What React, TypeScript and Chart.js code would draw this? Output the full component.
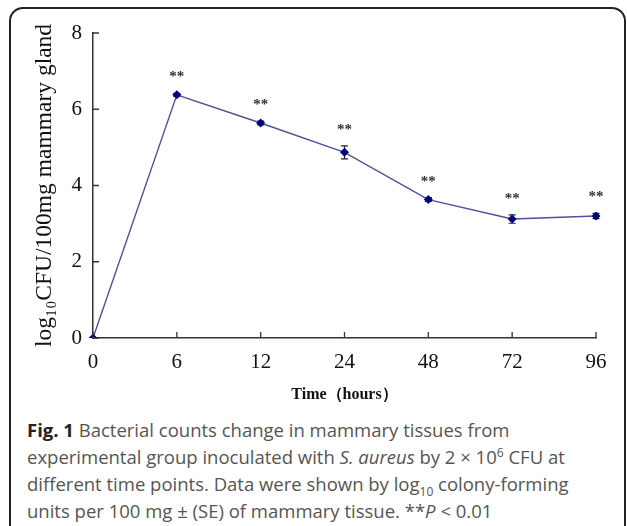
import React, { useEffect, useRef } from "react";
import { Chart, registerables } from "chart.js";
Chart.register(...registerables);

const hours = ["0", "6", "12", "24", "48", "72", "96"];
const meanLog = [0, 6.38, 5.64, 4.87, 3.63, 3.12, 3.2];
const seLog = [0, 0.04, 0.05, 0.17, 0.05, 0.11, 0.07];
const stars = ["", "**", "**", "**", "**", "**", "**"];
const yTicks = [0, 2, 4, 6, 8];

const errorBarPlugin = {
  id: "errorBars",
  beforeDatasetsDraw(chart: any) {
    const meta = chart.getDatasetMeta(0);
    const ys = chart.scales.y;
    const ctx = chart.ctx;
    ctx.save();
    ctx.strokeStyle = "#222";
    ctx.lineWidth = 1.2;
    meta.data.forEach((pt: any, i: number) => {
      if (!seLog[i]) return;
      const top = ys.getPixelForValue(meanLog[i] + seLog[i]);
      const bot = ys.getPixelForValue(meanLog[i] - seLog[i]);
      const x = pt.x;
      ctx.beginPath();
      ctx.moveTo(x, top);
      ctx.lineTo(x, bot);
      ctx.moveTo(x - 3.5, top);
      ctx.lineTo(x + 3.5, top);
      ctx.moveTo(x - 3.5, bot);
      ctx.lineTo(x + 3.5, bot);
      ctx.stroke();
    });
    ctx.restore();
  },
  afterDatasetsDraw(chart: any) {
    const meta = chart.getDatasetMeta(0);
    const ys = chart.scales.y;
    const ctx = chart.ctx;
    ctx.save();
    ctx.fillStyle = "#333";
    ctx.font = "bold 15px 'Liberation Serif'";
    ctx.textAlign = "center";
    ctx.textBaseline = "middle";
    meta.data.forEach((pt: any, i: number) => {
      if (!stars[i]) return;
      const top = ys.getPixelForValue(meanLog[i] + seLog[i]);
      ctx.fillText(stars[i], pt.x, top - 16);
    });
    ctx.restore();
  },
};

const innerTicksPlugin = {
  id: "innerTicks",
  afterDraw(chart: any) {
    const { x: xs, y: ys } = chart.scales;
    const ctx = chart.ctx;
    const area = chart.chartArea;
    ctx.save();
    ctx.strokeStyle = "#333";
    ctx.lineWidth = 1.3;
    ctx.beginPath();
    xs.ticks.forEach((_: any, i: number) => {
      const x = xs.getPixelForTick(i);
      ctx.moveTo(x, area.bottom);
      ctx.lineTo(x, area.bottom - 6);
    });
    ys.ticks.forEach((_: any, i: number) => {
      const y = ys.getPixelForTick(i);
      ctx.moveTo(area.left, y);
      ctx.lineTo(area.left + 6, y);
    });
    ctx.stroke();
    ctx.restore();
  },
};

export default function App() {
  const ref = useRef<HTMLCanvasElement>(null);
  useEffect(() => {
    document.body.style.margin = "0";
    document.body.style.overflow = "hidden";
    const chart = new Chart(ref.current!, {
      type: "line",
      data: {
        labels: hours,
        datasets: [
          {
            data: meanLog,
            borderColor: "#4f4f9c",
            borderWidth: 1.4,
            pointStyle: "rectRot",
            pointRadius: 3.5,
            pointBackgroundColor: "#000080",
            pointBorderColor: "#000080",
            tension: 0,
          },
        ],
      },
      options: {
        responsive: false,
        animation: false,
        layout: { padding: { left: 27, top: 33, right: 31, bottom: 2 } },
        plugins: { legend: { display: false }, tooltip: { enabled: false } },
        scales: {
          x: {
            type: "category",
            offset: false,
            grid: { display: false, drawTicks: false },
            border: { display: true, color: "#333", width: 1.5 },
            ticks: {
              color: "#111",
              padding: 12,
              font: { family: "'Liberation Serif'", size: 21 },
              maxRotation: 0,
            },
            title: {
              display: true,
              text: "Time（hours）",
              color: "#111",
              font: { family: "'Liberation Serif'", size: 16, weight: "bold" },
            },
            afterFit(scale: any) {
              scale.height = 70;
            },
          },
          y: {
            min: 0,
            max: 8,
            afterBuildTicks(scale: any) {
              scale.ticks = yTicks.map((v) => ({ value: v }));
            },
            grid: { display: false, drawTicks: false },
            border: { display: true, color: "#333", width: 1.5 },
            ticks: {
              color: "#111",
              padding: 11,
              font: { family: "'Liberation Serif'", size: 21 },
            },
            title: {
              display: true,
              text: "log₁₀CFU/100mg mammary gland",
              color: "#111",
              font: { family: "'Liberation Serif'", size: 23.5 },
            },
            afterFit(scale: any) {
              scale.width = 66;
            },
          },
        },
      },
      plugins: [errorBarPlugin, innerTicksPlugin],
    } as any);
    return () => chart.destroy();
  }, []);

  const capStyle: React.CSSProperties = {
    position: "absolute",
    left: 27,
    whiteSpace: "nowrap",
    fontFamily: "'Open Sans', sans-serif",
    fontSize: 18.5,
    color: "#555",
    lineHeight: "27px",
  };

  return (
    <div style={{ position: "relative", width: 627, height: 526, overflow: "hidden", background: "#fff" }}>
      <div
        style={{
          position: "absolute",
          left: 9,
          top: 7,
          width: 617,
          height: 540,
          border: "2px solid #222",
          borderRadius: 14,
          boxSizing: "border-box",
        }}
      />
      <canvas ref={ref} width={627} height={410} style={{ position: "absolute", left: 0, top: 0 }} />
      <div style={{ ...capStyle, top: 416 }}>
        <b style={{ color: "#222" }}>Fig. 1</b> Bacterial counts change in mammary tissues from
      </div>
      <div style={{ ...capStyle, top: 443 }}>
        experimental group inoculated with <i>S. aureus</i> by 2 × 10<sup style={{ fontSize: 12, lineHeight: 0 }}>6</sup> CFU at
      </div>
      <div style={{ ...capStyle, top: 470 }}>
        different time points. Data were shown by log<sub style={{ fontSize: 12, lineHeight: 0 }}>10</sub> colony-forming
      </div>
      <div style={{ ...capStyle, top: 497 }}>
        units per 100 mg ± (SE) of mammary tissue. **<i>P</i> &lt; 0.01
      </div>
    </div>
  );
}
